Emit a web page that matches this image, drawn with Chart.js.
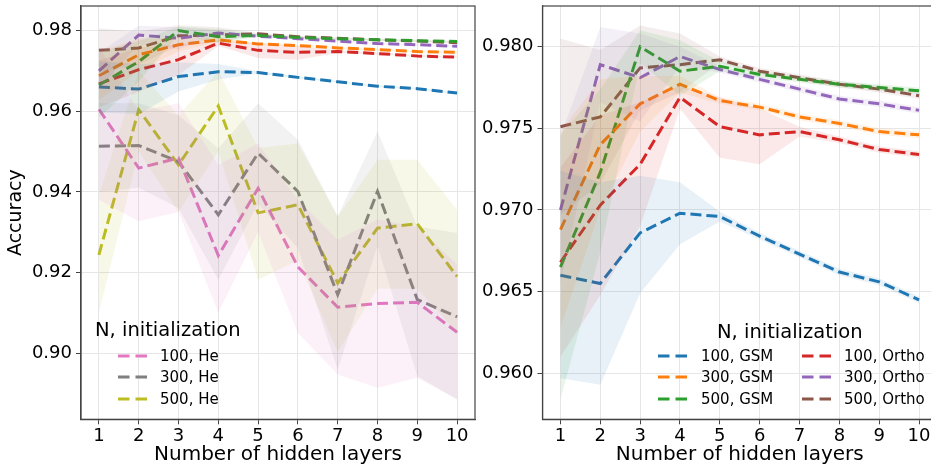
<!DOCTYPE html>
<html>
<head>
<meta charset="utf-8">
<script src="https://cdn.jsdelivr.net/npm/chart.js@4.4.1/dist/chart.umd.min.js"></script>
<style>
html,body{margin:0;padding:0;width:931px;height:467px;overflow:hidden;background:#fff;}
#wrap{position:relative;width:931px;height:467px;overflow:hidden;font-family:"DejaVu Sans",sans-serif;}
canvas{position:absolute;top:0;}
#cl{left:0;}
#cr{left:480px;}
.lt{position:absolute;font-size:19.5px;line-height:24px;color:#000;white-space:nowrap;}
.le{position:absolute;font-size:15px;line-height:20px;color:#000;white-space:nowrap;}
.sw{position:absolute;}
</style>
</head>
<body>
<div id="wrap">
<canvas id="cl" width="480" height="467" style="width:480px;height:467px"></canvas>
<canvas id="cr" width="460" height="467" style="width:460px;height:467px"></canvas>
<div id="legends"></div>
</div>
<script>
// ---------- data ----------
const layers = [1, 2, 3, 4, 5, 6, 7, 8, 9, 10];
const leftTicks = [0.90, 0.92, 0.94, 0.96, 0.98];
const rightTicks = [0.960, 0.965, 0.970, 0.975, 0.980];
const seriesLabels = ['100, GSM', '300, GSM', '500, GSM', '100, Ortho', '300, Ortho', '500, Ortho', '100, He', '300, He', '500, He'];

const gsm100Mean = [0.9660, 0.9655, 0.9686, 0.9698, 0.9696, 0.9684, 0.9673, 0.9662, 0.9656, 0.9645];
const gsm100Low  = [0.9597, 0.9593, 0.9649, 0.9679, 0.9693, 0.9682, 0.9671, 0.9660, 0.9654, 0.9643];
const gsm100High = [0.9724, 0.9717, 0.9721, 0.9717, 0.9699, 0.9686, 0.9675, 0.9664, 0.9658, 0.9647];

const gsm300Mean = [0.9688, 0.9740, 0.9765, 0.9777, 0.9767, 0.9763, 0.9757, 0.9753, 0.9748, 0.9746];
const gsm300Low  = [0.9628, 0.9700, 0.9748, 0.9772, 0.9765, 0.9761, 0.9755, 0.9751, 0.9746, 0.9744];
const gsm300High = [0.9748, 0.9780, 0.9782, 0.9782, 0.9769, 0.9765, 0.9759, 0.9755, 0.9750, 0.9748];

const gsm500Mean = [0.9665, 0.9723, 0.9800, 0.9785, 0.9788, 0.9783, 0.9780, 0.9777, 0.9775, 0.9773];
const gsm500Low  = [0.9584, 0.9674, 0.9790, 0.9770, 0.9785, 0.9781, 0.9778, 0.9775, 0.9773, 0.9771];
const gsm500High = [0.9746, 0.9774, 0.9810, 0.9804, 0.9791, 0.9785, 0.9782, 0.9779, 0.9777, 0.9775];

const ortho100Mean = [0.9668, 0.9703, 0.9728, 0.9769, 0.9751, 0.9746, 0.9748, 0.9743, 0.9737, 0.9734];
const ortho100Low  = [0.9610, 0.9648, 0.9690, 0.9762, 0.9732, 0.9728, 0.9745, 0.9741, 0.9735, 0.9732];
const ortho100High = [0.9726, 0.9758, 0.9766, 0.9776, 0.9769, 0.9762, 0.9751, 0.9745, 0.9739, 0.9736];

const ortho300Mean = [0.9700, 0.9789, 0.9781, 0.9794, 0.9786, 0.9780, 0.9774, 0.9768, 0.9765, 0.9761];
const ortho300Low  = [0.9655, 0.9766, 0.9754, 0.9788, 0.9784, 0.9778, 0.9772, 0.9766, 0.9763, 0.9759];
const ortho300High = [0.9745, 0.9812, 0.9808, 0.9800, 0.9788, 0.9782, 0.9776, 0.9770, 0.9767, 0.9763];

const ortho500Mean = [0.9751, 0.9757, 0.9787, 0.9789, 0.9792, 0.9785, 0.9781, 0.9777, 0.9774, 0.9770];
const ortho500Low  = [0.9697, 0.9716, 0.9761, 0.9772, 0.9790, 0.9783, 0.9779, 0.9775, 0.9772, 0.9768];
const ortho500High = [0.9805, 0.9798, 0.9813, 0.9808, 0.9794, 0.9787, 0.9783, 0.9779, 0.9776, 0.9772];

const he100Mean = [0.9605, 0.9459, 0.9484, 0.9242, 0.9409, 0.9214, 0.9114, 0.9123, 0.9126, 0.9052];
const he100Low  = [0.9380, 0.9327, 0.9350, 0.9100, 0.9300, 0.9050, 0.8947, 0.8914, 0.8939, 0.8885];
const he100High = [0.9760, 0.9600, 0.9620, 0.9467, 0.9520, 0.9380, 0.9281, 0.9332, 0.9313, 0.9220];

const he300Mean = [0.9513, 0.9515, 0.9475, 0.9343, 0.9496, 0.9401, 0.9145, 0.9401, 0.9133, 0.9090];
const he300Low  = [0.9400, 0.9410, 0.9360, 0.9182, 0.9370, 0.9260, 0.8959, 0.9265, 0.8943, 0.8885];
const he300High = [0.9620, 0.9620, 0.9590, 0.9508, 0.9620, 0.9529, 0.9340, 0.9550, 0.9314, 0.9298];

const he500Mean = [0.9244, 0.9604, 0.9467, 0.9613, 0.9348, 0.9368, 0.9174, 0.9310, 0.9321, 0.9190];
const he500Low  = [0.9100, 0.9500, 0.9350, 0.9500, 0.9182, 0.9230, 0.9003, 0.9160, 0.9160, 0.9051];
const he500High = [0.9393, 0.9700, 0.9590, 0.9700, 0.9509, 0.9520, 0.9339, 0.9480, 0.9480, 0.9356];

// ---------- styling ----------
const palette = ['#1f77b4', '#ff7f0e', '#2ca02c', '#d62728', '#9467bd', '#8c564b', '#e377c2', '#7f7f7f', '#bcbd22'];
const FONT = '"DejaVu Sans", sans-serif';

const allSeries = [
  [gsm100Mean, gsm100Low, gsm100High],
  [gsm300Mean, gsm300Low, gsm300High],
  [gsm500Mean, gsm500Low, gsm500High],
  [ortho100Mean, ortho100Low, ortho100High],
  [ortho300Mean, ortho300Low, ortho300High],
  [ortho500Mean, ortho500Low, ortho500High],
  [he100Mean, he100Low, he100High],
  [he300Mean, he300Low, he300High],
  [he500Mean, he500Low, he500High]
];

function rgba(hex, a) {
  const n = parseInt(hex.slice(1), 16);
  return `rgba(${(n >> 16) & 255},${(n >> 8) & 255},${n & 255},${a})`;
}
function pts(arr) { return layers.map((x, i) => ({x: x, y: arr[i]})); }

function buildDatasets(indices) {
  const bands = [], lines = [];
  indices.forEach(i => {
    const [mean, low, high] = allSeries[i];
    bands.push({label: seriesLabels[i] + ' upper', data: pts(high), borderWidth: 0, borderColor: 'transparent',
      pointRadius: 0, fill: '+1', backgroundColor: rgba(palette[i], 0.1), tension: 0});
    bands.push({label: seriesLabels[i] + ' lower', data: pts(low), borderWidth: 0, borderColor: 'transparent',
      pointRadius: 0, fill: false, tension: 0});
    lines.push({label: seriesLabels[i], data: pts(mean), borderColor: palette[i], borderWidth: 3,
      borderDash: [11, 5], pointRadius: 0, fill: false, tension: 0, borderCapStyle: 'butt'});
  });
  return bands.concat(lines);
}

const framePlugin = {
  id: 'frame',
  afterDraw(chart) {
    const {ctx, chartArea: a} = chart;
    ctx.save();
    ctx.strokeStyle = '#444';
    ctx.lineWidth = 1.2;
    ctx.strokeRect(a.left, a.top, a.right - a.left, a.bottom - a.top);
    ctx.restore();
  }
};

function makeChart(canvasId, indices, yMin, yMax, yTicks, decimals, yWidth, padRight, showYTitle) {
  return new Chart(document.getElementById(canvasId), {
    type: 'line',
    data: {datasets: buildDatasets(indices)},
    plugins: [framePlugin],
    options: {
      responsive: false,
      animation: false,
      devicePixelRatio: 1,
      layout: {padding: {top: 6, right: padRight, left: 0, bottom: 0}},
      plugins: {legend: {display: false}, tooltip: {enabled: false}},
      scales: {
        x: {
          type: 'linear', min: 0.55, max: 10.45,
          afterBuildTicks(s) { s.ticks = layers.map(v => ({value: v})); },
          afterFit(s) { s.height = 47.7; s.paddingLeft = 0; s.paddingRight = 0; },
          ticks: {color: '#000', font: {family: FONT, size: 18}, padding: 1, maxRotation: 0,
            callback: v => String(v)},
          grid: {color: '#e6e6e6', lineWidth: 1, tickColor: '#444', tickLength: 5, drawTicks: true},
          border: {display: true, color: '#444', width: 1.2},
          title: {display: true, text: 'Number of hidden layers', color: '#000',
            font: {family: FONT, size: 20}, padding: {top: 0, bottom: 0}}
        },
        y: {
          type: 'linear', min: yMin, max: yMax,
          afterBuildTicks(s) { s.ticks = yTicks.map(v => ({value: v})); },
          afterFit(s) { s.width = yWidth; s.paddingTop = 0; s.paddingBottom = 0; },
          ticks: {color: '#000', font: {family: FONT, size: 18}, padding: 4,
            callback: v => Number(v).toFixed(decimals)},
          grid: {color: '#e6e6e6', lineWidth: 1, tickColor: '#444', tickLength: 5, drawTicks: true},
          border: {display: true, color: '#444', width: 1.2},
          title: {display: showYTitle, text: 'Accuracy', color: '#000',
            font: {family: FONT, size: 19}, padding: {top: 5, bottom: 0}}
        }
      }
    }
  });
}

makeChart('cl', [0, 1, 2, 3, 4, 5, 6, 7, 8], 0.8836, 0.9861, leftTicks, 2, 81, 5, true);
makeChart('cr', [0, 1, 2, 3, 4, 5], 0.957185, 0.98249, rightTicks, 3, 62.5, 3, false);

// ---------- HTML legends ----------
const legendRoot = document.getElementById('legends');
function swatch(x, yc, color) {
  return `<svg class="sw" style="left:${x}px;top:${yc - 4}px" width="30" height="8">` +
    `<line x1="0" y1="4" x2="30" y2="4" stroke="${color}" stroke-width="3" stroke-dasharray="11.5,6"/></svg>`;
}
function legend(titleX, titleY, cols) {
  let html = `<div class="lt" style="left:${titleX}px;top:${titleY - 12}px">N, initialization</div>`;
  cols.forEach(col => {
    col.items.forEach((idx, r) => {
      const yc = col.rows[r];
      html += swatch(col.swX, yc, palette[idx]);
      html += `<div class="le" style="left:${col.textX}px;top:${yc - 10}px">${seriesLabels[idx]}</div>`;
    });
  });
  legendRoot.insertAdjacentHTML('beforeend', html);
}
legend(95, 330, [{items: [6, 7, 8], rows: [356, 377.3, 398.5], swX: 118, textX: 160}]);
legend(717, 331.5, [
  {items: [0, 1, 2], rows: [356, 377.3, 399], swX: 658, textX: 701},
  {items: [3, 4, 5], rows: [356, 377.3, 399], swX: 802, textX: 844}
]);
</script>
</body>
</html>
